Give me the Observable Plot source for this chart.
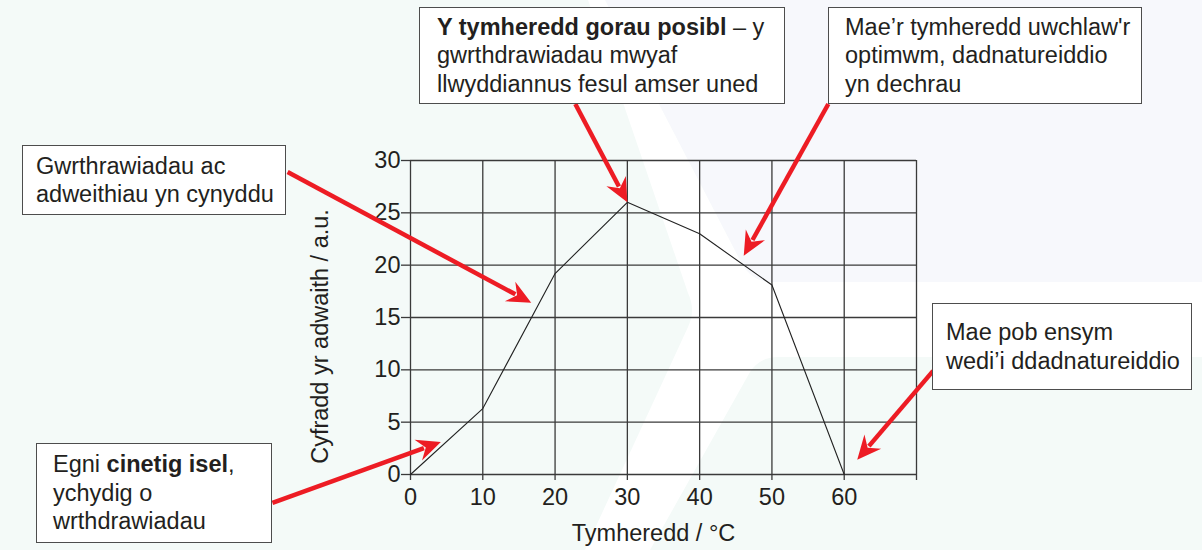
<!DOCTYPE html>
<html>
<head>
<meta charset="utf-8">
<script src="https://cdn.jsdelivr.net/npm/d3@7"></script>
<script src="https://cdn.jsdelivr.net/npm/@observablehq/plot@0.6"></script>
<style>
html, body { margin: 0; padding: 0; background: #f4faf8; }
#wrap { position: relative; width: 1202px; height: 550px; overflow: hidden; font-family: "Liberation Sans", Arial, sans-serif; color: #231f20; }
#bg { position: absolute; left: 0; top: 0; }
#chart { position: absolute; left: 0; top: 0; }
.note { position: absolute; box-sizing: border-box; background: #fff; border: 1.5px solid #4d4d4d; display: flex; flex-direction: column; justify-content: center; font-size: 23.5px; line-height: 28.5px; white-space: nowrap; }
</style>
</head>
<body>
<div id="wrap">
  <svg id="bg" width="1202" height="550">
    <rect x="0" y="0" width="1202" height="550" fill="#f4faf8"/>
    <path d="M605,0 L1202,0 L1202,282 L772,282 Q752,282 742,264 Z" fill="#f7f8fc"/>
    <path d="M588,0 L605,0 L742,264 Q752,282 772,282 L1202,282 L1202,357 L778,357 Q760,357 750,372 L650,550 L585,550 L688,327 Q696,310 688,293 Z" fill="#ffffff"/>
  </svg>
  <div id="chart"></div>
</div>
<script>
// ---- data ----
const temps = [0, 10, 20, 30, 40, 50, 60];
const rates = [0, 6.3, 19.2, 26, 23, 18.1, 0];
const xTicks = [0, 10, 20, 30, 40, 50, 60, 70];
const yTicks = [0, 5, 10, 15, 20, 25, 30];
const xDomain = [0, 70];
const yDomain = [0, 30];
const xLabel = "Tymheredd / °C";
const yLabel = "Cyfradd yr adwaith / a.u.";

// annotations (text lines; <b> marks bold words)
const noteA = ["Gwrthrawiadau ac", "adweithiau yn cynyddu"];
const noteB = ["<b>Y tymheredd gorau posibl</b> – y", "gwrthdrawiadau mwyaf", "llwyddiannus fesul amser uned"];
const noteC = ["Mae’r tymheredd uwchlaw'r", "optimwm, dadnatureiddio", "yn dechrau"];
const noteD = ["Mae pob ensym", "wedi’i ddadnatureiddio"];
const noteE = ["Egni <b>cinetig isel</b>,", "ychydig o", "wrthdrawiadau"];

// arrow start / tip in data units (temperature, rate)
const arrowFromX = [-17.0, 22.8, 57.8, 72.3, -19.1];
const arrowFromY = [28.9, 35.4, 35.4, 9.9, -2.7];
const arrowToX = [16.7, 30.0, 46.1, 61.8, 4.2];
const arrowToY = [16.4, 26.0, 20.9, 1.4, 3.1];

// ---- layout ----
const W = 1202, H = 550;
const mL = 410, mR = 286, mT = 160, mB = 76;
const notes = [noteA, noteB, noteC, noteD, noteE];
const noteBox = [
  [22, 145, 264, 70, 13],
  [419, 7, 366, 97, 17],
  [828, 7, 314, 97, 16],
  [932, 303, 260, 87, 13],
  [36, 443, 236, 100, 16]
];

const kx = (W - mL - mR) / (xDomain[1] - xDomain[0]);
const ky = (H - mT - mB) / (yDomain[1] - yDomain[0]);

const points = temps.map((t, i) => ({t, r: rates[i]}));
const arrows = arrowFromX.map((_, i) => {
  const dxp = (arrowToX[i] - arrowFromX[i]) * kx;
  const dyp = (arrowToY[i] - arrowFromY[i]) * ky; // positive = upward on screen
  return {
    x: arrowToX[i], y: arrowToY[i],
    len: Math.hypot(dxp, dyp),
    rot: Math.atan2(dxp, dyp) * 180 / Math.PI
  };
});

const HEAD_L = 24, HEAD_W = 11, NOTCH = 16;
const shaftShape = { draw(ctx, l) { ctx.moveTo(0, 0); ctx.lineTo(0, -l + NOTCH + 2); } };
const headShape = { draw(ctx, l) {
  ctx.moveTo(0, -l);
  ctx.lineTo(HEAD_W, -l + HEAD_L);
  ctx.lineTo(0, -l + NOTCH);
  ctx.lineTo(-HEAD_W, -l + HEAD_L);
  ctx.closePath();
} };

const red = "#ed1c24";
const gridColor = "#3a3a3a";

const arrowMarks = arrows.flatMap(a => [
  Plot.vector([a], {x: "x", y: "y", anchor: "end", length: a.len, rotate: a.rot, shape: shaftShape,
    stroke: red, strokeWidth: 4.5, strokeLinecap: "butt", fill: "none"}),
  Plot.vector([a], {x: "x", y: "y", anchor: "end", length: a.len, rotate: a.rot, shape: headShape,
    stroke: "none", fill: red})
]);

const chart = Plot.plot({
  width: W, height: H,
  marginLeft: mL, marginRight: mR, marginTop: mT, marginBottom: mB,
  x: {domain: xDomain, label: null},
  y: {domain: yDomain, label: null},
  style: {fontFamily: '"Liberation Sans", Arial, sans-serif', fontSize: "23.5px", color: "#231f20", background: "transparent", overflow: "visible"},
  marks: [
    Plot.gridX({ticks: xTicks, stroke: gridColor, strokeOpacity: 1, strokeWidth: 1.3}),
    Plot.gridY({ticks: yTicks, stroke: gridColor, strokeOpacity: 1, strokeWidth: 1.3}),
    Plot.axisX({ticks: xTicks, tickSize: 6, tickPadding: 8, tickFormat: d => d === 70 ? "" : String(d), label: null, stroke: gridColor, strokeWidth: 1.3}),
    Plot.axisY({ticks: yTicks, tickSize: 9, tickPadding: 1, label: null, stroke: gridColor, strokeWidth: 1.3}),
    Plot.line(points, {x: "t", y: "r", stroke: "#222", strokeWidth: 1.1}),
    Plot.text([xLabel], {frameAnchor: "bottom", textAnchor: "middle", lineAnchor: "middle", dx: -10, dy: 59, fontSize: 23.5, fill: "#231f20"}),
    Plot.text([yLabel], {frameAnchor: "left", textAnchor: "middle", lineAnchor: "middle", rotate: -90, dx: -90, dy: 19, fontSize: 23.5, fill: "#231f20"}),
    ...arrowMarks
  ]
});
document.getElementById("chart").appendChild(chart);

const wrap = document.getElementById("wrap");
notes.forEach((lines, i) => {
  const [l, t, w, h, p] = noteBox[i];
  const div = document.createElement("div");
  div.className = "note";
  div.style.left = l + "px";
  div.style.top = t + "px";
  div.style.width = w + "px";
  div.style.height = h + "px";
  div.style.paddingLeft = p + "px";
  div.innerHTML = lines.map(s => `<div>${s}</div>`).join("");
  wrap.appendChild(div);
});
</script>
</body>
</html>
